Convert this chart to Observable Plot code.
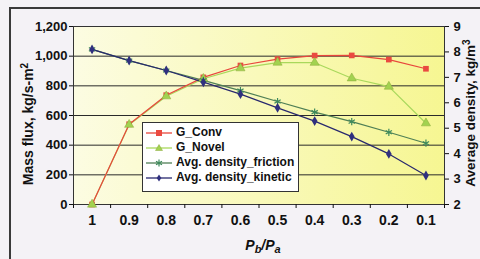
<!DOCTYPE html>
<html><head><meta charset="utf-8">
<script src="https://cdn.jsdelivr.net/npm/d3@7"></script>
<script src="https://cdn.jsdelivr.net/npm/@observablehq/plot@0.6"></script>
<style>
html,body{margin:0;padding:0;background:#f4f2f6;}
#wrap{position:relative;width:480px;height:259px;overflow:hidden;background:#f4f2f6;font-family:"Liberation Sans",Arial,sans-serif;}
#border{position:absolute;left:9px;top:7px;width:520px;height:320px;border-left:2px solid #3a3a3a;border-top:2px solid #3a3a3a;}
#chart{position:absolute;left:0;top:0;}
.legend{position:absolute;left:142px;top:122px;width:155px;height:66px;background:#fff;border:1px solid #333;font-weight:bold;font-size:12px;color:#111;padding-top:2px;box-sizing:content-box;}
.legend .row{height:15px;line-height:15px;display:flex;align-items:center;white-space:nowrap;}
.legend svg{width:28px;height:12px;margin:0 3px 0 2px;flex:none;}
</style>
</head><body>
<div id="wrap"><div id="border"></div><div id="chart"></div><div class="legend" id="legend"></div></div>
<script>
// Data
const ratio = [1, 0.9, 0.8, 0.7, 0.6, 0.5, 0.4, 0.3, 0.2, 0.1];
const ratioLabels = ["1", "0.9", "0.8", "0.7", "0.6", "0.5", "0.4", "0.3", "0.2", "0.1"];
const gConv = [0, 541, 737, 857, 937, 980, 1004, 1005, 977, 915];
const gNovel = [0, 538, 730, 848, 919, 957, 956, 851, 795, 548];
const densFriction = [8.10, 7.66, 7.27, 6.88, 6.48, 6.05, 5.63, 5.26, 4.84, 4.41];
const densKinetic = [8.10, 7.66, 7.27, 6.81, 6.34, 5.80, 5.28, 4.67, 3.99, 3.14];
const leftTicks = [0, 200, 400, 600, 800, 1000, 1200];
const rightTicks = [2, 3, 4, 5, 6, 7, 8, 9];
const seriesNames = ["G_Conv", "G_Novel", "Avg. density_friction", "Avg. density_kinetic"];

const leftMax = 1200, rMin = 2, rMax = 9;
const toLeft = v => (v - rMin) / (rMax - rMin) * leftMax;
const rows = ratio.map((r, i) => ({
  ratio: r, gConv: gConv[i], gNovel: gNovel[i],
  fric: toLeft(densFriction[i]), kin: toLeft(densKinetic[i])
}));
const boundaries = ratio.map(r => r + 0.05).concat([0.05]);

const C = {
  conv: "#e8463c", convDot: "#ea4a40",
  novel: "#a9d85c", novelDot: "#a2d250",
  fric: "#4f7f55", fricDot: "#3f8a5c",
  kin: "#28286e", kinDot: "#30307e"
};

const plot = Plot.plot({
  width: 480, height: 259,
  marginLeft: 73, marginRight: 36, marginTop: 26, marginBottom: 55,
  style: {background: "transparent", fontFamily: "'Liberation Sans', Arial, sans-serif", fontSize: "13px", fontWeight: "bold", color: "#111"},
  x: {domain: [1.05, 0.05]},
  y: {domain: [0, 1200]},
  marks: [
    Plot.frame({fill: "url(#plotbg)", stroke: "none"}),
    Plot.ruleY(leftTicks.filter(t => t > 0 && t < 1200), {stroke: "#2a2a2a", strokeWidth: 1}),
    Plot.frame({stroke: "#333", strokeWidth: 1}),
    Plot.line(rows, {x: "ratio", y: "gNovel", stroke: C.novel, strokeWidth: 1.2}),
    Plot.line(rows, {x: "ratio", y: "gConv", stroke: C.conv, strokeWidth: 1.2}),
    Plot.line(rows, {x: "ratio", y: "fric", stroke: C.fric, strokeWidth: 1.2}),
    Plot.line(rows, {x: "ratio", y: "kin", stroke: C.kin, strokeWidth: 1.2}),
    Plot.dot(rows, {x: "ratio", y: "gConv", symbol: "square", fill: C.convDot, r: 3.2}),
    Plot.dot(rows, {x: "ratio", y: "gNovel", symbol: "triangle", fill: C.novelDot, stroke: "#8aa838", strokeWidth: 0.5, r: 3.4}),
    Plot.dot(rows, {x: "ratio", y: "fric", symbol: "asterisk", stroke: C.fricDot, strokeWidth: 1.2, r: 3.4}),
    Plot.dot(rows, {x: "ratio", y: "kin", symbol: "diamond", fill: C.kinDot, r: 3}),
    Plot.axisY({ticks: leftTicks, tickFormat: d3.format(","), tickSize: 4, tickPadding: 2, label: null, fontSize: 13}),
    Plot.axisY({anchor: "right", ticks: rightTicks.map(toLeft), tickFormat: d => String(Math.round(d / leftMax * (rMax - rMin) + rMin)), tickSize: 4, tickPadding: 5, label: null, fontSize: 13}),
    Plot.axisX({ticks: boundaries, tickFormat: () => "", tickSize: 4, label: null}),
    Plot.axisX({ticks: ratio, tickFormat: d => ratioLabels[ratio.indexOf(d)], tickSize: 0, tickPadding: 11, label: null, fontSize: 14})
  ]
});

const svg = d3.select(plot);
svg.insert("defs", ":first-child").html(
  '<linearGradient id="plotbg" x1="0" y1="0" x2="1" y2="0">' +
  '<stop offset="0" stop-color="#fcfce2"/><stop offset="1" stop-color="#f6f692"/></linearGradient>');

// axis titles
const t1 = svg.append("text").attr("transform", "translate(33,124) rotate(-90)")
  .attr("text-anchor", "middle").style("font-size", "14px").style("font-weight", "bold").attr("fill", "#111");
t1.append("tspan").text("Mass flux, kg/s-m");
t1.append("tspan").attr("dy", "-5").style("font-size", "10px").text("2");

const t2 = svg.append("text").attr("transform", "translate(475,113) rotate(-90)")
  .attr("text-anchor", "middle").style("font-size", "13.5px").style("font-weight", "bold").attr("fill", "#111");
t2.append("tspan").text("Average density, kg/m");
t2.append("tspan").attr("dy", "-5").style("font-size", "10px").text("3");

const t3 = svg.append("text").attr("x", 263).attr("y", 250)
  .attr("text-anchor", "middle").style("font-size", "14px").style("font-weight", "bold").style("font-style", "italic").attr("fill", "#111");
t3.append("tspan").text("P");
t3.append("tspan").attr("dy", "3").style("font-size", "11px").text("b");
t3.append("tspan").attr("dy", "-3").text("/P");
t3.append("tspan").attr("dy", "3").style("font-size", "11px").text("a");

document.getElementById("chart").appendChild(plot);

// legend
const legendSyms = [
  `<line x1="1" y1="6" x2="27" y2="6" stroke="${C.conv}" stroke-width="1.3"/><rect x="11" y="3" width="6" height="6" fill="${C.convDot}"/>`,
  `<line x1="1" y1="6" x2="27" y2="6" stroke="${C.novel}" stroke-width="1.3"/><path d="M14,2.5L17.5,8.5L10.5,8.5Z" fill="${C.novelDot}" stroke="#8aa838" stroke-width="0.5"/>`,
  `<line x1="1" y1="6" x2="27" y2="6" stroke="${C.fric}" stroke-width="1.3"/><path d="M14,2.6V9.4M11,4.3L17,7.7M11,7.7L17,4.3" stroke="${C.fricDot}" stroke-width="1.2" fill="none"/>`,
  `<line x1="1" y1="6" x2="27" y2="6" stroke="${C.kin}" stroke-width="1.3"/><path d="M14,2.5L16.3,6L14,9.5L11.7,6Z" fill="${C.kinDot}"/>`
];
const leg = document.getElementById("legend");
seriesNames.forEach((name, i) => {
  const row = document.createElement("div");
  row.className = "row";
  row.innerHTML = `<svg viewBox="0 0 28 12">${legendSyms[i]}</svg>`;
  const span = document.createElement("span");
  span.textContent = name;
  row.appendChild(span);
  leg.appendChild(row);
});
</script>
</body></html>
